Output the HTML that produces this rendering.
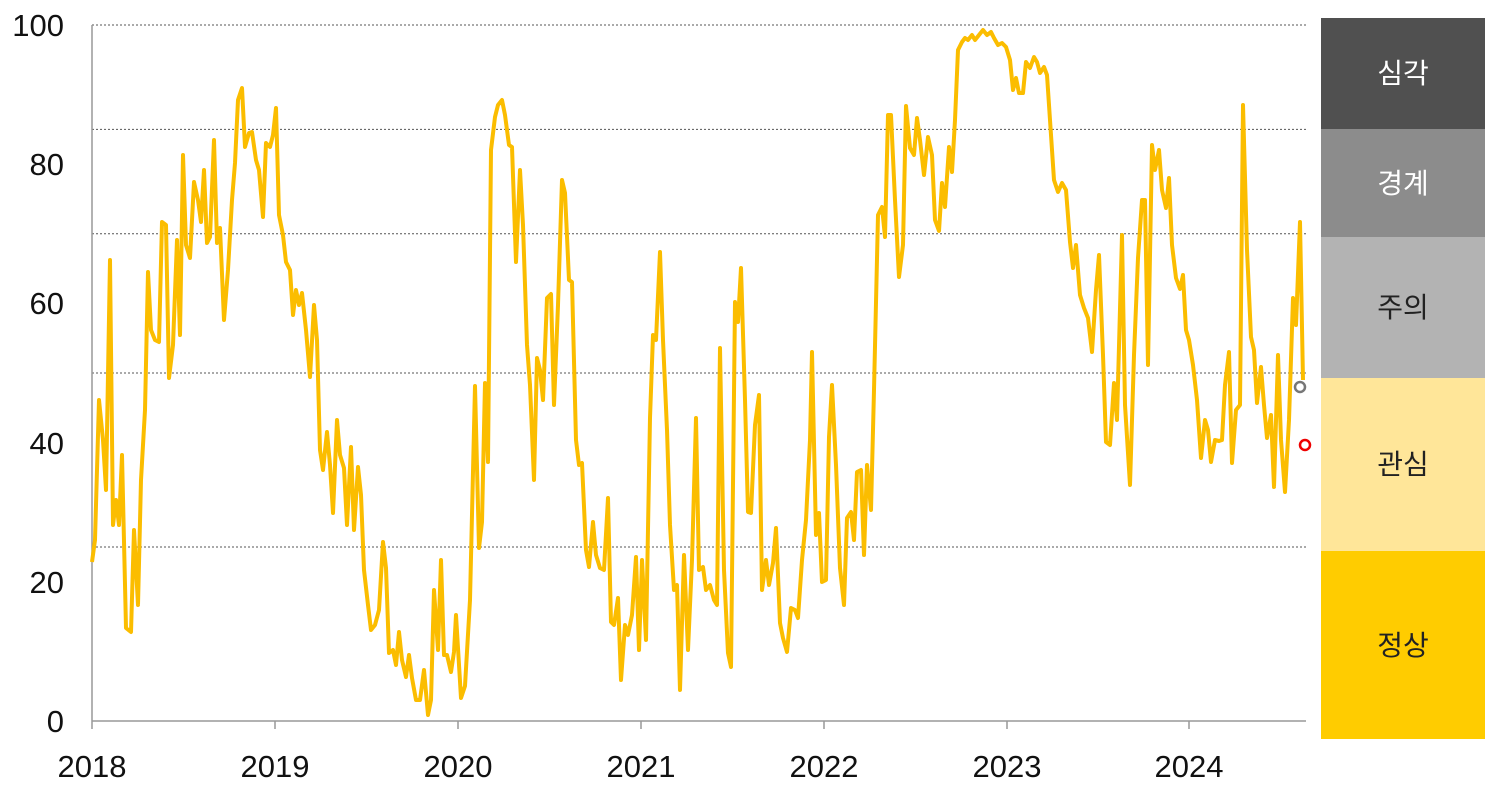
<!DOCTYPE html>
<html><head><meta charset="utf-8"><style>
html,body{margin:0;padding:0;background:#fff;}
svg{display:block;font-family:"Liberation Sans","Noto Sans CJK KR",sans-serif;}
</style></head><body>
<svg width="1488" height="789" viewBox="0 0 1488 789">
<g stroke="#555" stroke-width="1" stroke-dasharray="2,2">
<line x1="92" y1="25" x2="1306" y2="25"/>
<line x1="92" y1="129.4" x2="1306" y2="129.4"/>
<line x1="92" y1="233.8" x2="1306" y2="233.8"/>
<line x1="92" y1="373" x2="1306" y2="373"/>
<line x1="92" y1="547" x2="1306" y2="547"/>
</g>
<g stroke="#999" stroke-width="1.5">
<line x1="92" y1="25" x2="92" y2="721"/>
<line x1="92" y1="721" x2="1306" y2="721"/>
<line x1="92" y1="721" x2="92" y2="729"/><line x1="275" y1="721" x2="275" y2="729"/><line x1="458" y1="721" x2="458" y2="729"/><line x1="641" y1="721" x2="641" y2="729"/><line x1="824" y1="721" x2="824" y2="729"/><line x1="1007" y1="721" x2="1007" y2="729"/><line x1="1189" y1="721" x2="1189" y2="729"/>
</g>
<g font-size="31" fill="#111" text-anchor="end">
<text x="64" y="36">100</text><text x="64" y="175">80</text><text x="64" y="314">60</text><text x="64" y="454">40</text><text x="64" y="593">20</text><text x="64" y="732">0</text>
</g>
<g font-size="31" fill="#111" text-anchor="middle">
<text x="92" y="777">2018</text><text x="275" y="777">2019</text><text x="458" y="777">2020</text><text x="641" y="777">2021</text><text x="824" y="777">2022</text><text x="1007" y="777">2023</text><text x="1189" y="777">2024</text>
</g>
<polyline fill="none" stroke="#fbbd00" stroke-width="4" stroke-linejoin="round" points="92,562 95,540 99,400 103,440 106,490 110,260 113,525 116,500 119,525 122,455 126,628 131,632 134,530 138,605 141,480 145,410 148,272 151,330 155,340 159,342 162,222 166,225 169,378 173,345 177,240 180,335 183,155 186,245 190,258 194,182 198,200 201,222 204,170 207,243 210,237 214,140 217,243 220,228 224,320 228,270 232,200 235,163 238,100 242,88 245,147 249,133 252,132 256,160 259,170 263,217 266,143 270,147 273,135 276,108 279,215 283,235 286,262 290,270 293,315 296,290 299,305 302,293 306,330 310,377 314,305 317,340 320,450 323,470 327,432 330,465 333,513 337,420 340,455 344,468 347,525 351,447 354,530 358,467 361,495 364,570 368,605 371,630 375,625 379,610 383,542 386,568 389,653 393,650 396,665 399,632 402,660 406,677 409,655 412,678 416,700 420,700 424,670 428,715 431,700 434,590 438,650 441,560 444,655 447,655 451,672 454,652 456,615 461,698 465,686 470,600 475,386 479,548 482,522 485,383 488,462 491,150 495,117 498,105 502,100 505,115 509,145 512,147 516,262 520,170 523,225 527,345 530,385 534,480 537,358 540,370 543,400 547,298 551,294 554,405 558,305 562,180 565,193 569,280 572,282 576,440 579,465 582,463 586,550 589,567 593,522 596,555 600,568 604,570 608,498 611,622 614,625 618,598 621,680 625,625 628,635 632,615 636,557 639,650 642,560 646,640 650,418 653,335 656,340 660,252 663,340 667,430 670,525 674,590 677,585 680,690 684,555 688,650 692,560 696,418 699,570 703,567 706,590 710,585 714,600 717,605 720,348 724,570 728,653 731,667 735,302 738,322 741,268 745,400 748,512 751,513 755,425 759,395 762,590 766,560 769,585 773,563 776,528 780,623 783,638 787,652 791,608 795,610 798,618 802,560 806,520 810,440 812,352 816,535 819,513 822,582 826,580 829,437 832,385 836,465 840,568 844,605 847,518 851,512 854,540 857,472 861,470 864,555 867,465 871,510 874,390 878,215 882,207 885,237 888,115 891,115 895,200 899,277 903,245 906,106 910,148 914,155 917,118 920,140 924,175 928,137 932,155 935,220 939,231 942,183 945,207 949,147 952,172 955,120 958,50 962,42 965,38 968,40 972,35 975,40 979,35 983,30 987,35 991,32 994,38 998,45 1002,43 1006,47 1010,60 1013,90 1016,78 1019,93 1023,93 1026,62 1030,68 1034,57 1037,62 1040,73 1044,67 1047,75 1050,120 1054,180 1058,192 1062,183 1066,190 1070,242 1073,268 1076,245 1080,295 1084,308 1088,318 1092,352 1096,290 1099,255 1103,355 1106,442 1110,445 1114,383 1117,420 1122,235 1125,405 1130,485 1134,355 1138,258 1142,200 1145,200 1148,365 1152,145 1155,170 1159,150 1162,190 1166,208 1169,178 1172,245 1176,278 1180,289 1183,275 1186,330 1189,340 1193,365 1197,400 1201,458 1205,420 1208,430 1211,462 1215,440 1219,441 1222,440 1225,385 1229,352 1232,463 1236,410 1240,405 1243,105 1247,250 1251,337 1254,350 1257,403 1261,367 1264,405 1267,438 1271,415 1274,487 1278,355 1281,440 1285,492 1289,420 1293,298 1296,325 1300,222 1303,380"/>
<circle cx="1300" cy="387" r="5" fill="#fff" stroke="#777" stroke-width="2.5"/>
<circle cx="1305" cy="445" r="5" fill="#fff" stroke="#e00" stroke-width="2.5"/>
<rect x="1321" y="18" width="164" height="111" fill="#505050"/>
<rect x="1321" y="129" width="164" height="108" fill="#8c8c8c"/>
<rect x="1321" y="237" width="164" height="141" fill="#b3b3b3"/>
<rect x="1321" y="378" width="164" height="173" fill="#ffe699"/>
<rect x="1321" y="551" width="164" height="188" fill="#ffcc00"/>
<g font-size="28" text-anchor="middle">
<text x="1403" y="83" fill="#fff">심각</text>
<text x="1403" y="193" fill="#fff">경계</text>
<text x="1403" y="317" fill="#222">주의</text>
<text x="1403" y="474" fill="#222">관심</text>
<text x="1403" y="655" fill="#222">정상</text>
</g>
</svg>
</body></html>
